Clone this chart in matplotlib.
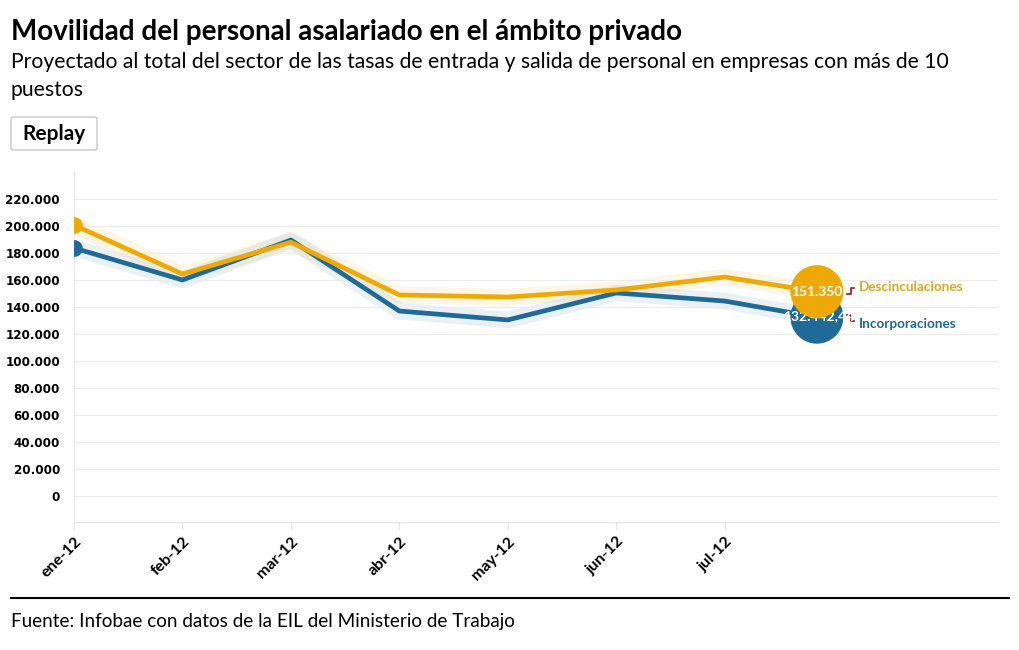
import matplotlib.pyplot as plt
from matplotlib.patches import FancyBboxPatch, Circle
from matplotlib.transforms import ScaledTranslation
from matplotlib.ticker import FuncFormatter

months = ["ene-12", "feb-12", "mar-12", "abr-12", "may-12", "jun-12", "jul-12"]
# x positions: monthly points, the last one is where the animated line stops
x_pos = [0, 1, 2, 3, 4, 5, 6, 6.85]
desvinc = [200700, 164400, 188000, 148900, 147400, 152600, 162200, 151350]
incorp = [183700, 160000, 189600, 137000, 130400, 150400, 144400, 132442]
end_labels = ["151.350", "132.442,44"]
y_ticks = list(range(0, 220001, 20000))

yellow = "#efa906"
blue = "#1f6a96"
fnt = "Lato"

fig = plt.figure(figsize=(10.2, 6.5), dpi=100)
ax = fig.add_axes([74 / 1020, 1 - 522 / 650, 924 / 1020, 350 / 650])

# soft halos behind the lines
ax.plot(x_pos, desvinc, color=yellow, lw=12, alpha=0.10, solid_capstyle="round", zorder=1)
ax.plot(x_pos, incorp, color=blue, lw=12, alpha=0.09, solid_capstyle="round", zorder=1)
ax.plot(x_pos, incorp, color=blue, lw=3.4, zorder=3)
ax.plot(x_pos, desvinc, color=yellow, lw=3.4, zorder=4)
ax.scatter([x_pos[0]], [incorp[0]], s=120, color=blue, zorder=5)
ax.scatter([x_pos[0]], [desvinc[0]], s=120, color=yellow, zorder=5)


def end_circle(x, y, color, z):
    c = Circle((0, 0), radius=0.265, facecolor=color, edgecolor="none", zorder=z, clip_on=False,
               transform=fig.dpi_scale_trans + ScaledTranslation(x, y, ax.transData))
    ax.add_artist(c)
    return c


# big end circles
cb = end_circle(x_pos[-1], incorp[-1], blue, 6)
tb = ax.text(x_pos[-1] + 0.02, incorp[-1] + 500, end_labels[1], color="white", fontsize=10,
             fontweight="bold", family=fnt, ha="center", va="center", zorder=6.5)
tb.set_clip_path(cb)
end_circle(x_pos[-1], desvinc[-1], yellow, 7)
ax.text(x_pos[-1], desvinc[-1], end_labels[0], color="white", fontsize=10, fontweight="bold",
        family=fnt, ha="center", va="center", zorder=8)

# connectors and series labels
lx = x_pos[-1] + 0.28
ax.plot([lx, lx + 0.03, lx + 0.03, lx + 0.06], [desvinc[-1] - 2000, desvinc[-1] - 2000, desvinc[-1] + 2500, desvinc[-1] + 2500],
        color="#a01010", lw=1.2, zorder=5)
ax.plot([lx, lx + 0.03, lx + 0.03, lx + 0.06], [incorp[-1] + 1500, incorp[-1] + 1500, incorp[-1] - 3000, incorp[-1] - 3000],
        color="#a01010", lw=1.2, zorder=5)
ax.text(lx + 0.11, 155000, "Descinculaciones", color="#e3a51a", fontsize=9.7,
        fontweight="bold", family=fnt, va="center")
ax.text(lx + 0.11, 127400, "Incorporaciones", color=blue, fontsize=9.7,
        fontweight="bold", family=fnt, va="center")

ax.set_xlim(0, 8.52)
ax.set_ylim(-19300, 240000)
ax.set_xticks(range(len(months)))
ax.set_xticklabels(months, rotation=45, ha="right", rotation_mode="anchor",
                   fontsize=11.5, fontweight="bold", family=fnt)
ax.set_yticks(y_ticks)
ax.yaxis.set_major_formatter(FuncFormatter(lambda v, p: f"{int(v):,}".replace(",", ".")))
for lab in ax.get_yticklabels():
    lab.set_fontweight("bold")
    lab.set_fontsize(8.6)
ax.tick_params(axis="y", length=0, pad=10)
ax.tick_params(axis="x", length=5, color="#e6e6e6", pad=4)
ax.grid(axis="y", color="#ececec", lw=0.8)
for s in ["top", "right"]:
    ax.spines[s].set_visible(False)
ax.spines["left"].set_color("#e6e6e6")
ax.spines["bottom"].set_color("#e6e6e6")

fig.text(11 / 1020, 1 - 32 / 650, "Movilidad del personal asalariado en el ámbito privado",
         fontsize=20, fontweight="bold", family=fnt, va="center")
fig.text(11 / 1020, 1 - 62 / 650, "Proyectado al total del sector de las tasas de entrada y salida de personal en empresas con más de 10",
         fontsize=15.2, family=fnt, va="center")
fig.text(11 / 1020, 1 - 90 / 650, "puestos", fontsize=15.2, family=fnt, va="center")

btn = FancyBboxPatch((11 / 1020, 1 - 150 / 650), 86 / 1020, 33 / 650, boxstyle="round,pad=0,rounding_size=0.003",
                     transform=fig.transFigure, facecolor="white", edgecolor="#c8c8c8", lw=1)
fig.patches.append(btn)
fig.text(54 / 1020, 1 - 134 / 650, "Replay", fontsize=15, fontweight="bold", family=fnt,
         ha="center", va="center")

fig.add_artist(plt.Line2D([11 / 1020, 1009 / 1020], [1 - 598 / 650, 1 - 598 / 650], color="black", lw=1.5))
fig.text(11 / 1020, 1 - 622 / 650, "Fuente: Infobae con datos de la EIL del Ministerio de Trabajo",
         fontsize=13.6, family=fnt, va="center")

fig.savefig("out.png", dpi=100, facecolor="white")
